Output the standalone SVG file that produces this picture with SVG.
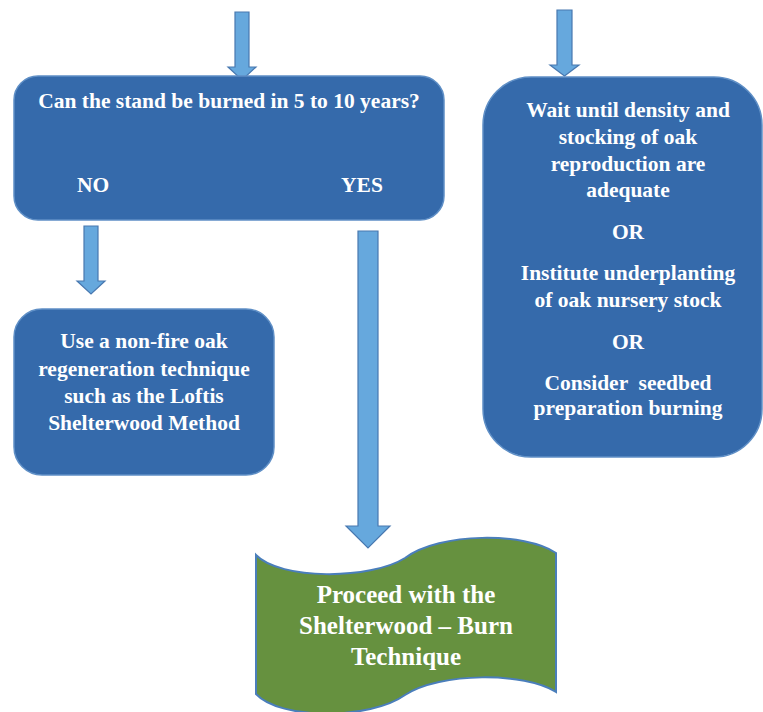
<svg xmlns="http://www.w3.org/2000/svg" width="763" height="712" viewBox="0 0 763 712">
<style>
.box{fill:#356AAB;stroke:#5F8FC6;stroke-width:1.5}
.arrow{fill:#66A8DD;stroke:#4878B0;stroke-width:1.2}
.wave{fill:#66913F;stroke:#4A7EBB;stroke-width:2}
text{font-family:"Liberation Serif","Times New Roman",serif;font-weight:bold;fill:#FFFFFF;text-anchor:middle;white-space:pre}
.t18{font-size:21.5px}
.t22{font-size:25px}
</style>
<rect width="763" height="712" fill="#FFFFFF"/>
<g id="connectors">
<path class="arrow" d="M235,12 H249 V67 H256 L242,80 L228,67 H235 Z"/>
<path class="arrow" d="M557,10 H572 V65 H579 L564.5,76 L550,65 H557 Z"/>
<path class="arrow" d="M84,226 H98 V281 H105 L91,294 L77,281 H84 Z"/>
<path class="arrow" d="M358,231 H378 V526 H390 L368,548 L346,526 H358 Z"/>
</g>
<g id="question">
<rect class="box" x="14" y="76" width="430" height="144" rx="24"/>
<text class="t18" x="229" y="108">Can the stand be burned in 5 to 10 years?</text>
<text class="t18" x="93" y="192">NO</text>
<text class="t18" x="362" y="192">YES</text>
</g>
<g id="nonfire">
<rect class="box" x="14" y="309" width="260" height="166" rx="28"/>
<text class="t18" x="144" y="348">Use a non-fire oak</text>
<text class="t18" x="144" y="376">regeneration technique</text>
<text class="t18" x="144" y="403">such as the Loftis</text>
<text class="t18" x="144" y="430">Shelterwood Method</text>
</g>
<g id="wait">
<rect class="box" x="483" y="77" width="279" height="380" rx="48"/>
<text class="t18" x="628" y="117">Wait until density and</text>
<text class="t18" x="628" y="144">stocking of oak</text>
<text class="t18" x="628" y="171">reproduction are</text>
<text class="t18" x="628" y="197">adequate</text>
<text class="t18" x="628" y="239">OR</text>
<text class="t18" x="628" y="280">Institute underplanting</text>
<text class="t18" x="628" y="307">of oak nursery stock</text>
<text class="t18" x="628" y="349">OR</text>
<text class="t18" x="628" y="390" xml:space="preserve">Consider  seedbed</text>
<text class="t18" x="628" y="415">preparation burning</text>
</g>
<g id="proceed">
<path class="wave" d="M256,555 C280,580 370,580 405,558 C440,532 525,532 556,553 V692 C525,672 440,672 405,695 C370,720 280,720 256,694 Z"/>
<text class="t22" x="406" y="603">Proceed with the</text>
<text class="t22" x="406" y="634">Shelterwood – Burn</text>
<text class="t22" x="406" y="665">Technique</text>
</g>
</svg>
